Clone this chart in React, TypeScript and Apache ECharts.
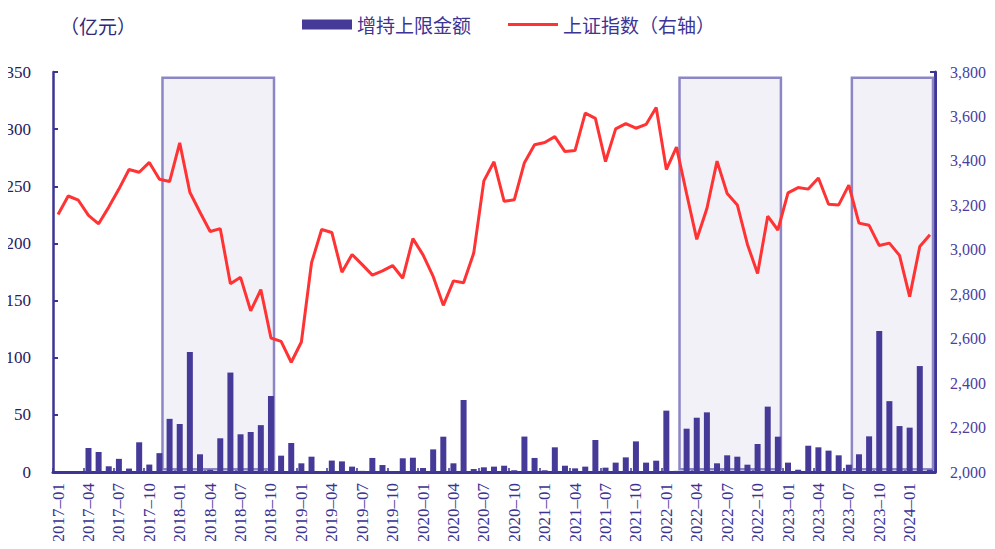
import React, { useEffect, useRef } from "react";
import * as echarts from "echarts";

// Months 2017-01 .. 2024-03
const months: string[] = [];
for (let y = 2017; y <= 2024; y++) {
  for (let m = 1; m <= 12; m++) {
    if (y === 2024 && m > 3) break;
    months.push(`${y}-${m < 10 ? "0" + m : m}`);
  }
}

// 增持上限金额 (亿元)
const amount2017 = [0, 0, 0, 21, 17.5, 5, 11.5, 3, 26, 6.5, 16.5, 46.5];
const amount2018 = [42, 105, 15.5, 2, 29.5, 87, 33, 35, 41, 66.5, 14.3, 25.4];
const amount2019 = [7.6, 13.4, 0.8, 10, 9.3, 4.7, 1, 12.3, 6.1, 0.5, 12, 12.5];
const amount2020 = [3.5, 19.8, 30.9, 7.6, 63, 2.6, 4.1, 4.7, 5.5, 1.5, 31, 12.3];
const amount2021 = [1.5, 21.6, 5.5, 3.2, 4.7, 28, 3.8, 8.2, 12.8, 26.8, 8.2, 9.9];
const amount2022 = [53.7, 1, 37.9, 47.5, 52.2, 7.6, 14.6, 13.4, 6.4, 24.5, 57.2, 30.9];
const amount2023 = [8.2, 2, 23, 21.6, 18.7, 14.6, 6.4, 15.5, 31.2, 123.4, 62, 40.2];
const amount2024 = [38.8, 92.7, 2];
const amounts = [
  ...amount2017, ...amount2018, ...amount2019, ...amount2020,
  ...amount2021, ...amount2022, ...amount2023, ...amount2024,
];

// 上证指数 (右轴)
const sse2017 = [3159, 3242, 3223, 3155, 3117, 3192, 3273, 3361, 3349, 3393, 3317, 3307];
const sse2018 = [3481, 3259, 3169, 3082, 3095, 2847, 2876, 2725, 2821, 2603, 2588, 2494];
const sse2019 = [2585, 2941, 3091, 3078, 2899, 2979, 2933, 2886, 2905, 2929, 2872, 3050];
const sse2020 = [2977, 2880, 2750, 2860, 2852, 2985, 3310, 3396, 3218, 3225, 3392, 3473];
const sse2021 = [3483, 3509, 3442, 3447, 3615, 3591, 3397, 3544, 3568, 3547, 3564, 3640];
const sse2022 = [3361, 3462, 3252, 3047, 3186, 3399, 3253, 3202, 3024, 2893, 3151, 3089];
const sse2023 = [3256, 3280, 3273, 3323, 3205, 3202, 3291, 3120, 3110, 3019, 3030, 2975];
const sse2024 = [2789, 3015, 3068];
const sse = [
  ...sse2017, ...sse2018, ...sse2019, ...sse2020,
  ...sse2021, ...sse2022, ...sse2023, ...sse2024,
];

// shaded periods [start month, end month]
const periods: [string, string][] = [
  ["2017-11", "2018-10"],
  ["2022-02", "2022-12"],
  ["2023-07", "2024-03"],
];
const boxTop = 345;
const boxBottom = 2.5;
const boxOffset = 0.8; // box edges sit a little right of the month centre

const leftTicks = { min: 0, max: 350, interval: 50 };
const rightTicks = { min: 2000, max: 3800, interval: 200 };

const AXIS = "#3d3595";
const BAR = "#463a98";
const RED = "#ff3333";
const SERIF = "Liberation Serif";
const CJK = "Noto Sans CJK SC";

export default function App() {
  const ref = useRef<HTMLDivElement>(null);
  useEffect(() => {
    if (!ref.current) return;
    const chart = echarts.init(ref.current, undefined, { renderer: "svg" });
    const idx = (m: string) => months.indexOf(m);
    chart.setOption({
      animation: false,
      backgroundColor: "#ffffff",
      textStyle: { fontFamily: SERIF },
      grid: { left: 53, right: 60, top: 72, bottom: 77 },
      legend: {
        left: 297,
        top: 10,
        itemWidth: 50,
        itemHeight: 10,
        itemGap: 37,
        symbolKeepAspect: true,
        textStyle: { fontFamily: CJK, fontSize: 19, color: "#3d3595" },
        data: [
          { name: "增持上限金额", icon: "rect" },
          { name: "上证指数（右轴）", icon: "path://M0,0L50,0L50,3L0,3Z" },
        ],
      },
      graphic: [
        {
          type: "text",
          left: 60,
          top: 16,
          style: { text: "（亿元）", font: "19px 'Noto Sans CJK SC'", fill: "#2e2a78" },
        },
      ],
      xAxis: [
        {
          type: "category",
          data: months,
          boundaryGap: true,
          axisLine: { lineStyle: { color: AXIS, width: 3 } },
          axisTick: { show: true, inside: true, length: 4, interval: 2, lineStyle: { color: AXIS, width: 1.5 } },
          axisLabel: {
            interval: 2,
            rotate: 90,
            margin: 11,
            fontFamily: SERIF,
            fontSize: 17,
            color: "#3a3392",
            formatter: (v: string) => v.replace("-", "–"),
          },
          splitLine: { show: false },
        },
        {
          type: "value",
          min: 0,
          max: months.length,
          show: false,
        },
      ],
      yAxis: [
        {
          type: "value",
          ...leftTicks,
          position: "left",
          axisLine: { show: true, lineStyle: { color: AXIS, width: 2.5 } },
          axisTick: { show: true, inside: true, length: 5, lineStyle: { color: AXIS, width: 2 } },
          axisLabel: { margin: 22, fontFamily: SERIF, fontSize: 17, color: "#25215f" },
          splitLine: { show: false },
        },
        {
          type: "value",
          ...rightTicks,
          position: "right",
          axisLine: { show: true, lineStyle: { color: AXIS, width: 3 } },
          axisTick: { show: true, inside: true, length: 5, lineStyle: { color: AXIS, width: 2 } },
          axisLabel: {
            margin: 15,
            fontFamily: SERIF,
            fontSize: 16,
            color: "#4a40a0",
            formatter: (v: number) => v.toLocaleString("en-US"),
          },
          splitLine: { show: false },
        },
      ],
      series: [
        {
          name: "periods",
          type: "scatter",
          xAxisIndex: 1,
          yAxisIndex: 0,
          data: [],
          symbolSize: 0,
          silent: true,
          z: 1,
          markArea: {
            silent: true,
            itemStyle: { color: "#f2f1f8", borderColor: "#8c86c6", borderWidth: 2.5 },
            data: periods.map(([a, b]) => [
              { xAxis: idx(a) + boxOffset, yAxis: boxTop },
              { xAxis: idx(b) + boxOffset, yAxis: boxBottom },
            ]),
          },
        },
        {
          name: "增持上限金额",
          type: "bar",
          yAxisIndex: 0,
          data: amounts,
          barWidth: 6,
          itemStyle: { color: BAR },
          z: 3,
        },
        {
          name: "上证指数（右轴）",
          type: "line",
          yAxisIndex: 1,
          data: sse,
          symbol: "none",
          lineStyle: { color: RED, width: 3 },
          itemStyle: { color: RED },
          z: 4,
        },
      ],
    });
    return () => chart.dispose();
  }, []);
  return <div ref={ref} style={{ width: 995, height: 549, margin: -8 }} />;
}
